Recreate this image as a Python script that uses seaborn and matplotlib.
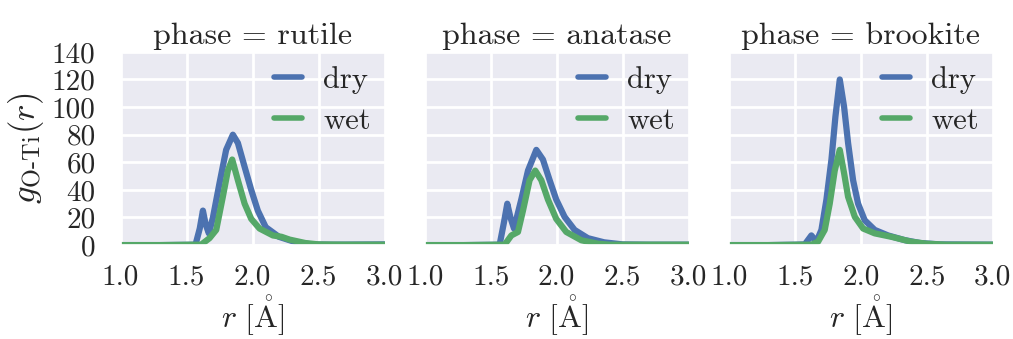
import numpy as np
import pandas as pd
import matplotlib
matplotlib.use("Agg")
import matplotlib.pyplot as plt
import seaborn as sns

# ---- data ----
phases = ["rutile", "anatase", "brookite"]
states = ["dry", "wet"]

rutile_dry_r = [1.0, 1.3, 1.5, 1.568, 1.60, 1.624, 1.645, 1.669, 1.70, 1.75, 1.80, 1.851, 1.889, 1.939, 1.99, 2.04, 2.10, 2.20, 2.33, 2.45, 2.6, 2.8, 3.0]
rutile_dry_g = [0.0, 0.0, 0.2, 0.3, 12.0, 25.0, 15.0, 8.5, 20.0, 45.0, 69.0, 80.0, 74.0, 57.0, 40.0, 25.0, 13.0, 6.0, 2.0, 0.5, 0.3, 0.4, 0.5]
rutile_wet_r = [1.0, 1.3, 1.5, 1.61, 1.674, 1.725, 1.775, 1.813, 1.846, 1.889, 1.94, 1.99, 2.053, 2.154, 2.22, 2.28, 2.40, 2.50, 2.7, 3.0]
rutile_wet_g = [0.0, 0.0, 0.2, 0.3, 5.0, 11.0, 35.0, 54.0, 62.0, 47.0, 30.0, 19.0, 12.0, 7.0, 6.0, 4.0, 1.5, 0.5, 0.3, 0.3]

anatase_dry_r = [1.0, 1.3, 1.5, 1.568, 1.60, 1.626, 1.65, 1.677, 1.732, 1.783, 1.846, 1.896, 1.947, 1.997, 2.06, 2.136, 2.237, 2.36, 2.5, 2.7, 3.0]
anatase_dry_g = [0.0, 0.0, 0.2, 0.3, 16.0, 30.0, 20.0, 12.0, 33.0, 54.0, 69.0, 62.0, 47.0, 33.0, 20.5, 11.0, 5.0, 2.0, 0.5, 0.3, 0.3]
anatase_wet_r = [1.0, 1.3, 1.5, 1.606, 1.657, 1.707, 1.745, 1.795, 1.838, 1.884, 1.934, 1.997, 2.073, 2.187, 2.313, 2.4, 2.7, 3.0]
anatase_wet_g = [0.0, 0.0, 0.2, 0.3, 7.0, 9.5, 25.0, 47.0, 54.0, 47.0, 33.0, 19.0, 9.5, 3.5, 1.0, 0.3, 0.3, 0.3]

brookite_dry_r = [1.0, 1.3, 1.5, 1.576, 1.626, 1.664, 1.702, 1.74, 1.778, 1.808, 1.841, 1.874, 1.904, 1.942, 1.98, 2.03, 2.106, 2.207, 2.333, 2.45, 2.6, 3.0]
brookite_dry_g = [0.0, 0.0, 0.3, 0.5, 7.0, 2.5, 11.0, 33.0, 62.0, 93.0, 120.0, 100.0, 74.0, 47.0, 30.0, 18.0, 11.0, 7.0, 3.6, 1.5, 0.5, 0.3]
brookite_wet_r = [1.0, 1.3, 1.5, 1.626, 1.677, 1.727, 1.765, 1.803, 1.841, 1.874, 1.904, 1.955, 2.018, 2.106, 2.232, 2.38, 2.5, 2.65, 3.0]
brookite_wet_g = [0.0, 0.0, 0.2, 0.3, 2.5, 11.0, 30.0, 54.0, 69.0, 52.0, 35.0, 20.5, 12.0, 8.5, 6.0, 2.5, 1.0, 0.3, 0.3]

yticks = [0, 20, 40, 60, 80, 100, 120, 140]
xticks = [1.0, 1.5, 2.0, 2.5, 3.0]

series = {
    ("rutile", "dry"): (rutile_dry_r, rutile_dry_g),
    ("rutile", "wet"): (rutile_wet_r, rutile_wet_g),
    ("anatase", "dry"): (anatase_dry_r, anatase_dry_g),
    ("anatase", "wet"): (anatase_wet_r, anatase_wet_g),
    ("brookite", "dry"): (brookite_dry_r, brookite_dry_g),
    ("brookite", "wet"): (brookite_wet_r, brookite_wet_g),
}
rows = []
for (ph, st), (rr, gg) in series.items():
    for a, b in zip(rr, gg):
        rows.append({"phase": ph, "state": st, "r": a, "g": b})
df = pd.DataFrame(rows)

# ---- style ----
sns.set_theme(style="darkgrid", rc={"grid.linewidth": 2.0})
plt.rcParams["font.family"] = ["cmr10", "DejaVu Serif"]
plt.rcParams["mathtext.fontset"] = "cm"
plt.rcParams["axes.formatter.use_mathtext"] = True
plt.rcParams["axes.unicode_minus"] = False

palette = {"dry": "#4C72B0", "wet": "#55A868"}

g = sns.FacetGrid(df, col="phase", col_order=phases, sharey=True, sharex=True,
                  height=3.39, aspect=1.0)
g.map_dataframe(sns.lineplot, x="r", y="g", hue="state", hue_order=states,
                palette=palette, estimator=None, sort=True, linewidth=4.5)
g.figure.set_size_inches(10.13, 3.39)
g.set_titles(col_template="phase = {col_name}", size=23)
g.set(xlim=(1.0, 3.0), ylim=(0, 140), xticks=xticks, yticks=yticks)

for i, ax in enumerate(g.axes.flat):
    ax.set_xlabel(r"$r\ [\mathring{\mathrm{A}}]$", fontsize=23, labelpad=2)
    ax.set_xticklabels([f"{t:.1f}" for t in xticks], fontsize=21)
    ax.tick_params(axis="x", pad=8)
    ax.tick_params(axis="y", pad=12)
    leg = ax.legend(loc="upper right", frameon=False, fontsize=22,
                    handlelength=0.9, handletextpad=0.7, borderaxespad=0.05,
                    borderpad=0.4, labelspacing=0.45)
    for h in leg.get_lines():
        h.set_linewidth(4)
    if i == 0:
        ax.set_ylabel(r"$g_{\mathrm{O\text{-}Ti}}(r)$", fontsize=25, labelpad=4)
        ax.set_yticklabels([str(t) for t in yticks], fontsize=21)
    else:
        ax.set_ylabel("")

g.figure.subplots_adjust(left=0.119, right=0.980, top=0.847, bottom=0.277, wspace=0.152)
g.figure.savefig("out.png", dpi=100)
